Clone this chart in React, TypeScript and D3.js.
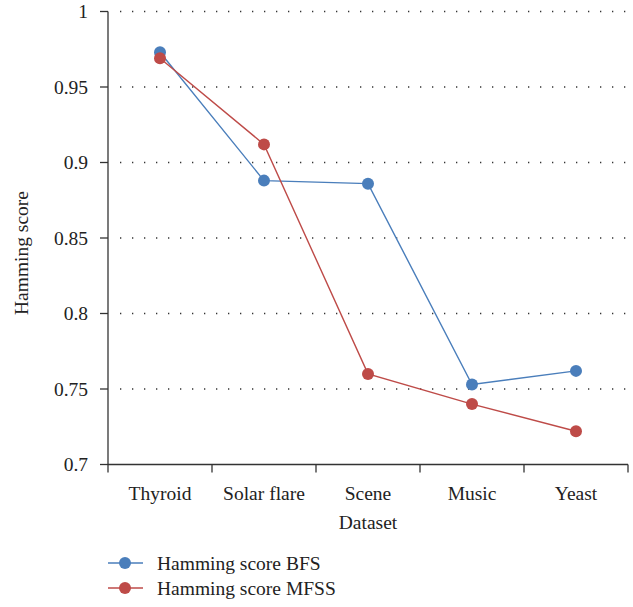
import React from "react";
import * as d3 from "d3";

const categories = ["Thyroid", "Solar flare", "Scene", "Music", "Yeast"];
const bfsScores = [0.973, 0.888, 0.886, 0.753, 0.762];
const mfssScores = [0.969, 0.912, 0.76, 0.74, 0.722];
const yTicks = [0.7, 0.75, 0.8, 0.85, 0.9, 0.95, 1];
const seriesNames = ["Hamming score BFS", "Hamming score MFSS"];
const seriesColors = ["#4a7ebb", "#be4b48"];

const W = 633;
const H = 607;
const left = 108;
const right = 628;
const top = 11.5;
const bottom = 464.5;
const font = "'Liberation Serif', 'DejaVu Serif', serif";
const fs = 19.5;

export default function App() {
  const x = d3.scaleBand<string>().domain(categories).range([left, right]);
  const y = d3.scaleLinear().domain([0.7, 1]).range([bottom, top]);
  const cx = (c: string) => (x(c) as number) + x.bandwidth() / 2;
  const line = d3
    .line<number>()
    .x((_, i) => cx(categories[i]))
    .y((v) => y(v));
  const series = [bfsScores, mfssScores];
  const fmt = (v: number) => (v === 1 ? "1" : String(+v.toFixed(2)));
  const xTickPos = [...categories.map((c) => x(c) as number), right];

  return (
    <svg
      width={W}
      height={H}
      style={{ position: "absolute", left: 0, top: 0, background: "#fff" }}
      fontFamily={font}
    >
      {/* dotted horizontal gridlines */}
      {yTicks.slice(1).map((t) => (
        <line
          key={"g" + t}
          x1={left + 12}
          x2={right}
          y1={y(t)}
          y2={y(t)}
          stroke="#333"
          strokeWidth={1.3}
          strokeDasharray="1.3 10.7"
        />
      ))}
      {/* axes */}
      <line x1={left} x2={left} y1={top} y2={bottom} stroke="#333" strokeWidth={1.3} />
      <line x1={left} x2={right} y1={bottom} y2={bottom} stroke="#333" strokeWidth={1.3} />
      {yTicks.map((t) => (
        <g key={"y" + t}>
          <line x1={left - 8} x2={left} y1={y(t)} y2={y(t)} stroke="#333" strokeWidth={1.3} />
          <text x={left - 20} y={y(t)} dy="0.35em" textAnchor="end" fontSize={fs} fill="#222">
            {fmt(t)}
          </text>
        </g>
      ))}
      {xTickPos.map((p, i) => (
        <line key={"xt" + i} x1={p} x2={p} y1={bottom} y2={bottom + 8} stroke="#333" strokeWidth={1.3} />
      ))}
      {categories.map((c) => (
        <text key={"xl" + c} x={cx(c)} y={500} textAnchor="middle" fontSize={fs} fill="#222">
          {c}
        </text>
      ))}
      <text x={(left + right) / 2} y={529} textAnchor="middle" fontSize={fs} fill="#222">
        Dataset
      </text>
      <text
        transform={`translate(28,253) rotate(-90)`}
        textAnchor="middle"
        fontSize={fs}
        fill="#222"
      >
        Hamming score
      </text>
      {/* series */}
      {series.map((vals, si) => (
        <g key={"s" + si}>
          <path d={line(vals) || ""} fill="none" stroke={seriesColors[si]} strokeWidth={1.4} />
          {vals.map((v, i) => (
            <circle key={i} cx={cx(categories[i])} cy={y(v)} r={6} fill={seriesColors[si]} />
          ))}
        </g>
      ))}
      {/* legend */}
      {seriesNames.map((n, i) => {
        const ly = 563 + i * 25;
        return (
          <g key={"lg" + i}>
            <line x1={108} x2={143} y1={ly} y2={ly} stroke={seriesColors[i]} strokeWidth={1.4} />
            <circle cx={125} cy={ly} r={6} fill={seriesColors[i]} />
            <text x={157} y={ly} dy="0.35em" fontSize={fs} fill="#222">
              {n}
            </text>
          </g>
        );
      })}
    </svg>
  );
}
